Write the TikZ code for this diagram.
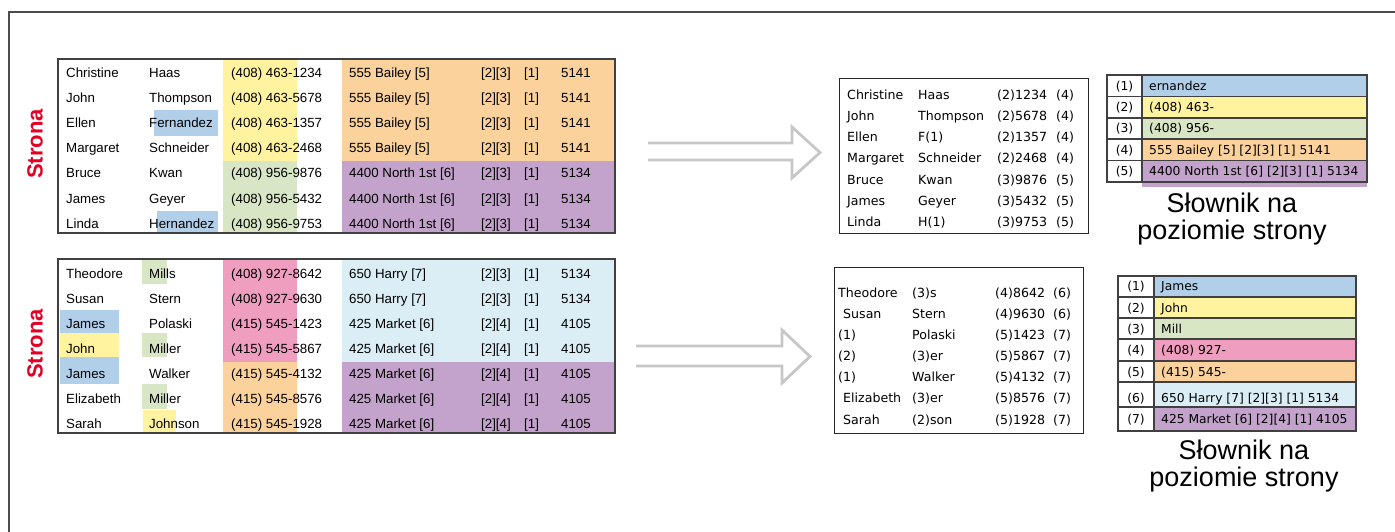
\documentclass[tikz,border=0pt]{standalone}
\usepackage{fontspec}
\setmainfont{Liberation Sans}
\newfontfamily\dejavu{DejaVu Sans}

\definecolor{cblue}{RGB}{178,207,233}
\definecolor{cyellow}{RGB}{255,243,160}
\definecolor{cgreen}{RGB}{217,230,197}
\definecolor{corange}{RGB}{251,210,156}
\definecolor{cpurple}{RGB}{195,163,203}
\definecolor{cpink}{RGB}{240,158,191}
\definecolor{clight}{RGB}{220,238,245}
\definecolor{cred}{RGB}{226,0,36}

\begin{document}
\begin{tikzpicture}[x=1pt, y=-1pt,
	cell/.style={anchor=base west, inner sep=0pt, font=\fontsize{13.3}{16}\selectfont},
	ccell/.style={anchor=base west, inner sep=0pt, font=\dejavu\fontsize{12.6}{15}\selectfont},
	dcell/.style={anchor=base west, inner sep=0pt, font=\dejavu\fontsize{12.3}{15}\selectfont},
	dnum/.style={anchor=base, inner sep=0pt, font=\dejavu\fontsize{12.3}{15}\selectfont},
	page/.style={rotate=90, text=cred, inner sep=0pt, font=\bfseries\fontsize{22}{26}\selectfont},
	caption/.style={align=center, inner sep=0pt, font=\fontsize{27}{26.5}\selectfont},
	tbl/.style={draw=black!75, line width=1.5pt},
	ctbl/.style={draw=black!85, line width=1pt},
	hollow/.style={draw=black!22, line width=2.8pt, line join=miter}]

	\useasboundingbox (0,0) rectangle (1395,532);
	% outer frame
	\draw[draw=black!70, line width=1.5pt] (9,532) -- (9,12) -- (1395,12);

	% first page
	\fill[cyellow] (223,59) rectangle (297,161);
	\fill[cgreen] (223,161) rectangle (297,233);
	\fill[corange] (342,59) rectangle (615,161);
	\fill[cpurple] (342,161) rectangle (615,233);
	\fill[cblue] (154,110) rectangle (218,136);
	\fill[cblue] (157,211) rectangle (218,233);
	\foreach \first/\last/\phone/\street/\blk/\lot/\zip [count=\row] in {
		Christine/Haas/(408) 463-1234/555 Bailey [5]/[2][3]/[1]/5141,
		John/Thompson/(408) 463-5678/555 Bailey [5]/[2][3]/[1]/5141,
		Ellen/Fernandez/(408) 463-1357/555 Bailey [5]/[2][3]/[1]/5141,
		Margaret/Schneider/(408) 463-2468/555 Bailey [5]/[2][3]/[1]/5141,
		Bruce/Kwan/(408) 956-9876/4400 North 1st [6]/[2][3]/[1]/5134,
		James/Geyer/(408) 956-5432/4400 North 1st [6]/[2][3]/[1]/5134,
		Linda/Hernandez/(408) 956-9753/4400 North 1st [6]/[2][3]/[1]/5134}{
		\pgfmathsetmacro{\yy}{53+25*\row}
		\node[cell] (a\row-1) at (66,\yy) {\first};
		\node[cell] (a\row-2) at (149,\yy) {\last};
		\node[cell] (a\row-3) at (231,\yy) {\phone};
		\node[cell] (a\row-4) at (349,\yy) {\street};
		\node[cell] (a\row-5) at (481,\yy) {\blk};
		\node[cell] (a\row-6) at (524,\yy) {\lot};
		\node[cell] (a\row-7) at (561,\yy) {\zip};
	}
	\draw[tbl] (58,59) rectangle (615,233);
	\node[page] (pageA) at (35,144) {Strona};

	% second page
	\fill[cpink] (223,259) rectangle (297,362);
	\fill[corange] (223,362) rectangle (297,433);
	\fill[clight] (342,259) rectangle (615,362);
	\fill[cpurple] (342,362) rectangle (615,433);
	\fill[cgreen] (142,259) rectangle (167,284);
	\fill[cgreen] (142,333) rectangle (167,357);
	\fill[cgreen] (142,384) rectangle (167,409);
	\fill[cyellow] (143,410) rectangle (176,433);
	\fill[cblue] (60,310) rectangle (119,333);
	\fill[cyellow] (60,333) rectangle (119,357);
	\fill[cblue] (60,357) rectangle (119,384);
	\foreach \first/\last/\phone/\street/\blk/\lot/\zip [count=\row] in {
		Theodore/Mills/(408) 927-8642/650 Harry [7]/[2][3]/[1]/5134,
		Susan/Stern/(408) 927-9630/650 Harry [7]/[2][3]/[1]/5134,
		James/Polaski/(415) 545-1423/425 Market [6]/[2][4]/[1]/4105,
		John/Miller/(415) 545-5867/425 Market [6]/[2][4]/[1]/4105,
		James/Walker/(415) 545-4132/425 Market [6]/[2][4]/[1]/4105,
		Elizabeth/Miller/(415) 545-8576/425 Market [6]/[2][4]/[1]/4105,
		Sarah/Johnson/(415) 545-1928/425 Market [6]/[2][4]/[1]/4105}{
		\pgfmathsetmacro{\yy}{253+25*\row}
		\node[cell] (b\row-1) at (66,\yy) {\first};
		\node[cell] (b\row-2) at (149,\yy) {\last};
		\node[cell] (b\row-3) at (231,\yy) {\phone};
		\node[cell] (b\row-4) at (349,\yy) {\street};
		\node[cell] (b\row-5) at (481,\yy) {\blk};
		\node[cell] (b\row-6) at (524,\yy) {\lot};
		\node[cell] (b\row-7) at (561,\yy) {\zip};
	}
	\draw[tbl] (58,259) rectangle (615,433);
	\node[page] (pageB) at (35,344) {Strona};

	% arrows
	\draw[hollow] (648,143) -- (792,143) -- (792,127) -- (820,152.5) -- (792,178) -- (792,160) -- (648,160);
	\draw[hollow] (636,346) -- (782,346) -- (782,330) -- (810,356.5) -- (782,383) -- (782,366) -- (636,366);

	% compressed pages
	\foreach \first/\last/\phone/\ref [count=\row] in {
		Christine/Haas/(2)1234/(4),
		John/Thompson/(2)5678/(4),
		Ellen/F(1)/(2)1357/(4),
		Margaret/Schneider/(2)2468/(4),
		Bruce/Kwan/(3)9876/(5),
		James/Geyer/(3)5432/(5),
		Linda/H(1)/(3)9753/(5)}{
		\pgfmathsetmacro{\yy}{78.3+21.17*\row}
		\node[ccell] (c\row-1) at (847,\yy) {\first};
		\node[ccell] (c\row-2) at (918,\yy) {\last};
		\node[ccell] (c\row-3) at (997,\yy) {\phone};
		\node[ccell] (c\row-4) at (1056,\yy) {\ref};
	}
	\draw[ctbl] (839,79) rectangle (1088,233);
	\foreach \dx/\first/\last/\phone/\ref [count=\row] in {
		0/Theodore/(3)s/(4)8642/(6),
		5/Susan/Stern/(4)9630/(6),
		0/(1)/Polaski/(5)1423/(7),
		0/(2)/(3)er/(5)5867/(7),
		0/(1)/Walker/(5)4132/(7),
		5/Elizabeth/(3)er/(5)8576/(7),
		5/Sarah/(2)son/(5)1928/(7)}{
		\pgfmathsetmacro{\yy}{276.3+21.1*\row}
		\node[ccell] (d\row-1) at (838+\dx,\yy) {\first};
		\node[ccell] (d\row-2) at (912,\yy) {\last};
		\node[ccell] (d\row-3) at (995,\yy) {\phone};
		\node[ccell] (d\row-4) at (1053,\yy) {\ref};
	}
	\draw[ctbl] (834,267) rectangle (1083,433);

	% dictionaries
	\fill[cpurple] (1142,180) rectangle (1367,187);
	\foreach \col/\txt [count=\row] in {
		cblue/ernandez,
		cyellow/(408) 463-,
		cgreen/(408) 956-,
		corange/555 Bailey [5] [2][3] [1] 5141,
		cpurple/4400 North 1st [6] [2][3] [1] 5134}{
		\pgfmathsetmacro{\ya}{75+21.4*(\row-1)}
		\pgfmathsetmacro{\yb}{75+21.4*\row}
		\pgfmathsetmacro{\yt}{\ya+15.2}
		\draw[tbl, fill=white] (1107,\ya) rectangle (1142,\yb);
		\draw[tbl, fill=\col] (1142,\ya) rectangle (1367,\yb);
		\node[dnum] (e\row-1) at (1124.5,\yt) {(\row)};
		\node[dcell] (e\row-2) at (1149,\yt) {\txt};
	}
	\node[caption] (dictA) at (1232,219) {Słownik na\\poziomie strony};

	\foreach \col/\txt/\ya/\yb/\yt [count=\row] in {
		cblue/James/276/297/290.5,
		cyellow/John/297/318/312.5,
		cgreen/Mill/318/339/333.5,
		cpink/(408) 927-/339/361/354.5,
		corange/(415) 545-/361/382/376.5,
		clight/650 Harry [7] [2][3] [1] 5134/382/407/402.5,
		cpurple/425 Market [6] [2][4] [1] 4105/407/431/423.5}{
		\draw[tbl, fill=white] (1118,\ya) rectangle (1154,\yb);
		\draw[tbl, fill=\col] (1154,\ya) rectangle (1356,\yb);
		\node[dnum] (f\row-1) at (1136,\yt) {(\row)};
		\node[dcell] (f\row-2) at (1161,\yt) {\txt};
	}
	\node[caption] (dictB) at (1244,466) {Słownik na\\poziomie strony};
\end{tikzpicture}
\end{document}
